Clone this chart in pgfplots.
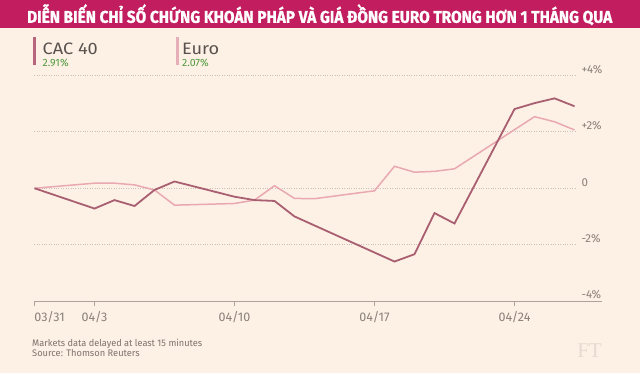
\documentclass[border=0pt]{standalone}
\usepackage{pgfplots}
\pgfplotsset{compat=1.18}
\usepackage{fontspec}
\setmainfont{Fira Sans}
\newfontfamily\ftfont{Liberation Serif}
\newfontfamily\titlefont[FakeBold=1.2]{Fira Sans Bold}
\definecolor{bg}{HTML}{FDF0E4}
\definecolor{titlebg}{HTML}{C21D5E}
\definecolor{cacline}{HTML}{A95F72}
\definecolor{euroline}{HTML}{E9A9B1}
\definecolor{cacbar}{HTML}{B9647D}
\definecolor{eurobar}{HTML}{E6AEB6}
\definecolor{legtext}{HTML}{58524E}
\definecolor{leggreen}{HTML}{4E9A3E}
\definecolor{gridcol}{HTML}{CDC2BA}
\definecolor{axiscol}{HTML}{ABA39C}
\definecolor{tickcol}{HTML}{8A817A}
\definecolor{footcol}{HTML}{7D746D}
\definecolor{ftcol}{HTML}{E6DBD1}
\begin{document}
\begin{tikzpicture}[x=1pt,y=1pt]
\fill[bg] (0,0) rectangle (640,-373);
\fill[titlebg] (0,0) rectangle (640,-28);
\node[anchor=base west, inner sep=0pt, text=white] at (27,-22.8)
  {\resizebox{585pt}{\height}{\fontsize{17}{17}\selectfont\titlefont DIỄN BIẾN CHỈ SỐ CHỨNG KHOÁN PHÁP VÀ GIÁ ĐỒNG EURO TRONG HƠN 1 THÁNG QUA}};
% legend
\fill[cacbar] (32.5,-37) rectangle (36,-65);
\node[anchor=base west, inner sep=0pt, text=legtext] at (42.5,-54.5) {\scalebox{1.1}[1]{\fontsize{16.5}{16.5}\selectfont CAC 40}};
\node[anchor=base west, inner sep=0pt, text=leggreen] at (42.5,-66) {\fontsize{10.5}{10.5}\selectfont 2.91\%};
\fill[eurobar] (176,-37) rectangle (178.5,-65);
\node[anchor=base west, inner sep=0pt, text=legtext] at (182,-54.5) {\scalebox{1.1}[1]{\fontsize{16.5}{16.5}\selectfont Euro}};
\node[anchor=base west, inner sep=0pt, text=leggreen] at (182,-66) {\fontsize{10.5}{10.5}\selectfont 2.07\%};
\begin{axis}[
  at={(34.5pt,-301pt)}, anchor=south west,
  scale only axis, width=542pt, height=225.5pt,
  xmin=0, xmax=27.1, ymin=-4, ymax=4,
  axis line style={draw=none},
  clip=false,
  xtick={0,3,10,17,24},
  xticklabels={\makebox[0pt][l]{03/31},04/3,04/10,04/17,04/24},
  xtick pos=bottom, tick align=outside,
  major tick length=5pt,
  x tick style={axiscol, line width=0.8pt},
  xticklabel style={inner sep=0pt, anchor=north, yshift=-5pt, text=tickcol, font=\fontsize{12.5}{12.5}\selectfont},
  ytick={-4,-2,0,2,4},
  yticklabels={\makebox[0pt][l]{-4\%},\makebox[0pt][l]{-2\%},\makebox[0pt][l]{0},\makebox[0pt][l]{+2\%},\makebox[0pt][l]{+4\%}},
  yticklabel pos=right,
  y tick style={draw=none},
  yticklabel style={inner sep=0pt, anchor=center, xshift=0pt, yshift=6pt, text=tickcol, font=\fontsize{11.5}{11.5}\selectfont},
  ymajorgrids,
  major grid style={gridcol, dotted, line width=0.8pt},
]
\addplot[euroline, line width=1.5pt] coordinates {
 (0,0) (3,0.18) (4,0.18) (5,0.12) (6,-0.06) (7,-0.60) (10,-0.54) (11,-0.42)
 (12,0.09) (13,-0.36) (14,-0.37) (17,-0.09) (18,0.78) (19,0.57) (20,0.60)
 (21,0.69) (25,2.54) (26,2.36) (27,2.07)
};
\addplot[cacline, line width=1.8pt] coordinates {
 (0,0) (3,-0.72) (4,-0.42) (5,-0.63) (6,-0.06) (7,0.24) (10,-0.30) (11,-0.42)
 (12,-0.45) (13,-1.00) (18,-2.60) (19,-2.34) (20,-0.88) (21,-1.25) (24,2.81)
 (25,3.02) (26,3.19) (27,2.91)
};
\end{axis}
\draw[axiscol, line width=0.8pt] (34.5,-301) -- (602,-301);
% footnote
\node[anchor=base west, inner sep=0pt, text=footcol] at (32,-346)
  {\resizebox{170pt}{\height}{\fontsize{9.5}{9.5}\selectfont Markets data delayed at least 15 minutes}};
\node[anchor=base west, inner sep=0pt, text=footcol] at (32,-356)
  {\scalebox{0.98}[1]{\fontsize{9.5}{9.5}\selectfont Source: Thomson Reuters}};
\node[anchor=base east, inner sep=0pt, text=ftcol] at (602,-357) {\fontsize{21}{21}\selectfont\ftfont FT};
\end{tikzpicture}
\end{document}
